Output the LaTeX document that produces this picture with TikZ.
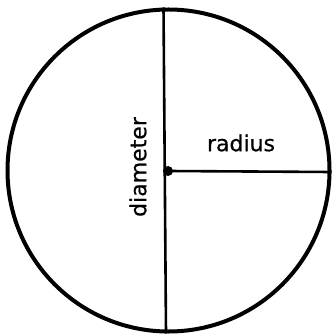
\documentclass[tikz,border=0pt]{standalone}
\usepackage{fontspec}
\setmainfont{DejaVu Sans}
\usepackage{tikz}
\usetikzlibrary{positioning}

\tikzset{
	rim/.style={circle, draw, line width=4pt, inner sep=0pt, minimum size=322pt},
	seg/.style={line width=2.6pt},
	lbl/.style={font=\fontsize{22}{26}\selectfont\addfontfeature{FakeBold=0.6}, inner sep=0pt}
}

\begin{document}
\begin{tikzpicture}[x=1pt, y=-1pt]
	\useasboundingbox (0,0) rectangle (331,336);
	% 圆
	\node[rim] (rim) at (168.5,170.5) {};
	% 直径
	\coordinate (dtop) at (rim.north -| 163.5,0);
	\coordinate (dbot) at (rim.south -| 166,0);
	\draw[seg] (dtop) -- (dbot);
	% 圆心和半径
	\coordinate (ctr) at (168,171);
	\draw[seg] (ctr) -- (rim.east |- 0,172);
	\node[circle, fill, inner sep=0pt, minimum size=10pt] (dot) at (ctr) {};
	% 标签
	\node[lbl, rotate=90] (dlbl) at (138,167) {diameter};
	\node[lbl] (rlbl) at (241,143) {radius};
\end{tikzpicture}
\end{document}
